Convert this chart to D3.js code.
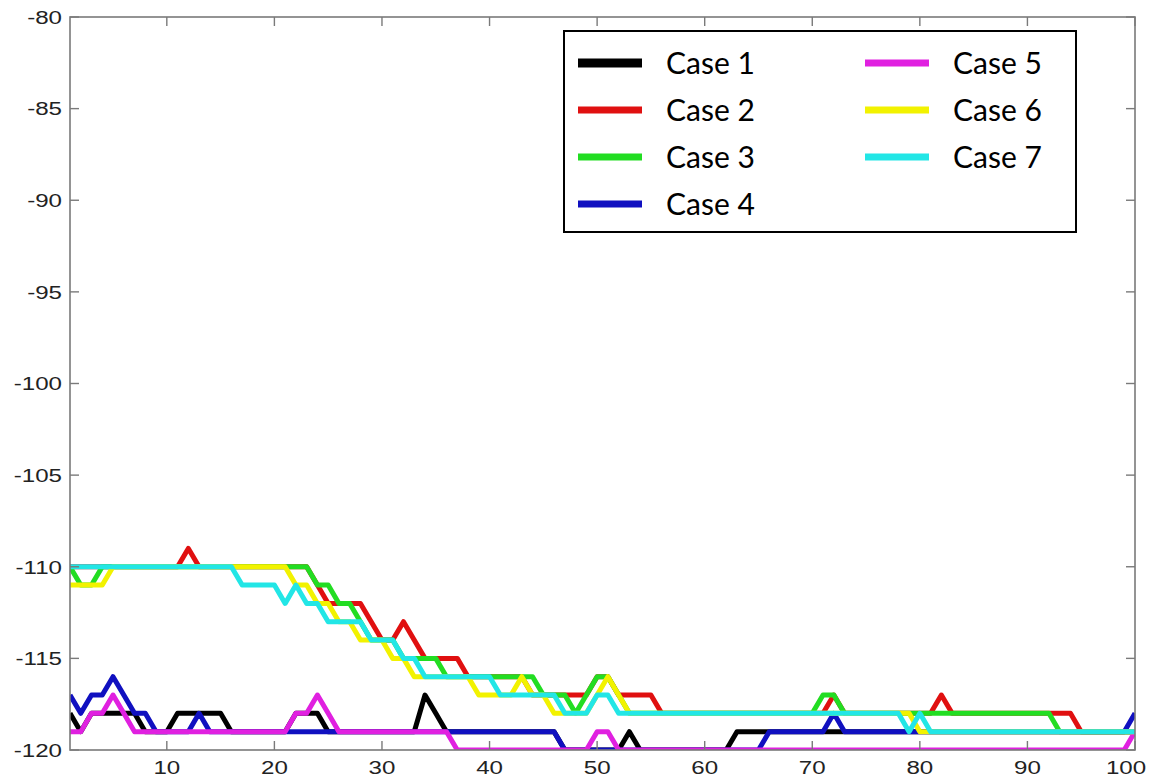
<!DOCTYPE html>
<html>
<head>
<meta charset="utf-8">
<script src="https://cdn.jsdelivr.net/npm/d3@7"></script>
<style>
  body { margin: 0; background: #fff; }
  svg { display: block; }
</style>
</head>
<body>
<script>

// series values, one per x = 1..100 (dB)
var case1 = [
  -118,-119,-118,-118,-118,-118,-118,-119,-119,-119,
  -118,-118,-118,-118,-118,-119,-119,-119,-119,-119,
  -119,-118,-118,-118,-119,-119,-119,-119,-119,-119,
  -119,-119,-119,-117,-118,-119,-119,-119,-119,-119,
  -119,-119,-119,-119,-119,-119,-120,-120,-120,-120,
  -120,-120,-119,-120,-120,-120,-120,-120,-120,-120,
  -120,-120,-119,-119,-119,-119,-119,-119,-119,-119,
  -119,-119,-119,-119,-119,-119,-119,-119,-119,-119,
  -119,-119,-119,-119,-119,-119,-119,-119,-119,-119,
  -119,-119,-119,-119,-119,-119,-119,-119,-119,-119]
var case2 = [
  -110,-110,-110,-110,-110,-110,-110,-110,-110,-110,
  -110,-109,-110,-110,-110,-110,-110,-110,-110,-110,
  -110,-110,-110,-111,-112,-112,-112,-112,-113,-114,
  -114,-113,-114,-115,-115,-115,-115,-116,-116,-116,
  -116,-116,-116,-117,-117,-117,-117,-117,-117,-116,
  -116,-117,-117,-117,-117,-118,-118,-118,-118,-118,
  -118,-118,-118,-118,-118,-118,-118,-118,-118,-118,
  -118,-117,-118,-118,-118,-118,-118,-118,-118,-118,
  -118,-117,-118,-118,-118,-118,-118,-118,-118,-118,
  -118,-118,-118,-118,-119,-119,-119,-119,-119,-119]
var case3 = [
  -110,-111,-111,-110,-110,-110,-110,-110,-110,-110,
  -110,-110,-110,-110,-110,-110,-110,-110,-110,-110,
  -110,-110,-110,-111,-111,-112,-112,-113,-114,-114,
  -114,-115,-115,-115,-115,-116,-116,-116,-116,-116,
  -116,-116,-116,-116,-117,-117,-117,-118,-117,-116,
  -116,-117,-118,-118,-118,-118,-118,-118,-118,-118,
  -118,-118,-118,-118,-118,-118,-118,-118,-118,-118,
  -117,-117,-118,-118,-118,-118,-118,-118,-118,-118,
  -118,-118,-118,-118,-118,-118,-118,-118,-118,-118,
  -118,-118,-119,-119,-119,-119,-119,-119,-119,-119]
var case4 = [
  -117,-118,-117,-117,-116,-117,-118,-118,-119,-119,
  -119,-119,-118,-119,-119,-119,-119,-119,-119,-119,
  -119,-119,-119,-119,-119,-119,-119,-119,-119,-119,
  -119,-119,-119,-119,-119,-119,-119,-119,-119,-119,
  -119,-119,-119,-119,-119,-119,-120,-120,-120,-120,
  -120,-120,-120,-120,-120,-120,-120,-120,-120,-120,
  -120,-120,-120,-120,-120,-119,-119,-119,-119,-119,
  -119,-118,-119,-119,-119,-119,-119,-119,-119,-119,
  -119,-119,-119,-119,-119,-119,-119,-119,-119,-119,
  -119,-119,-119,-119,-119,-119,-119,-119,-119,-118]
var case5 = [
  -119,-119,-118,-118,-117,-118,-119,-119,-119,-119,
  -119,-119,-119,-119,-119,-119,-119,-119,-119,-119,
  -119,-118,-118,-117,-118,-119,-119,-119,-119,-119,
  -119,-119,-119,-119,-119,-119,-120,-120,-120,-120,
  -120,-120,-120,-120,-120,-120,-120,-120,-120,-119,
  -119,-120,-120,-120,-120,-120,-120,-120,-120,-120,
  -120,-120,-120,-120,-120,-120,-120,-120,-120,-120,
  -120,-120,-120,-120,-120,-120,-120,-120,-120,-120,
  -120,-120,-120,-120,-120,-120,-120,-120,-120,-120,
  -120,-120,-120,-120,-120,-120,-120,-120,-120,-119]
var case6 = [
  -111,-111,-111,-111,-110,-110,-110,-110,-110,-110,
  -110,-110,-110,-110,-110,-110,-110,-110,-110,-110,
  -110,-111,-111,-112,-112,-113,-113,-114,-114,-114,
  -115,-115,-116,-116,-116,-116,-116,-116,-117,-117,
  -117,-117,-116,-117,-117,-118,-118,-118,-118,-117,
  -116,-117,-118,-118,-118,-118,-118,-118,-118,-118,
  -118,-118,-118,-118,-118,-118,-118,-118,-118,-118,
  -118,-118,-118,-118,-118,-118,-118,-118,-118,-119,
  -119,-119,-119,-119,-119,-119,-119,-119,-119,-119,
  -119,-119,-119,-119,-119,-119,-119,-119,-119,-119]
var case7 = [
  -110,-110,-110,-110,-110,-110,-110,-110,-110,-110,
  -110,-110,-110,-110,-110,-110,-111,-111,-111,-111,
  -112,-111,-112,-112,-113,-113,-113,-113,-114,-114,
  -114,-115,-115,-116,-116,-116,-116,-116,-116,-116,
  -117,-117,-117,-117,-117,-117,-118,-118,-118,-117,
  -117,-118,-118,-118,-118,-118,-118,-118,-118,-118,
  -118,-118,-118,-118,-118,-118,-118,-118,-118,-118,
  -118,-118,-118,-118,-118,-118,-118,-118,-119,-118,
  -119,-119,-119,-119,-119,-119,-119,-119,-119,-119,
  -119,-119,-119,-119,-119,-119,-119,-119,-119,-119]

var names = ["Case 1", "Case 2", "Case 3", "Case 4", "Case 5", "Case 6", "Case 7"]
var colors = ["#000000", "#e01010", "#22dd22", "#1010c0", "#e020e0", "#f2f200", "#22e6e6"]
var series = [case1, case2, case3, case4, case5, case6, case7]
var xTicks = [10, 20, 30, 40, 50, 60, 70, 80, 90, 100]
var yTicks = [-80, -85, -90, -95, -100, -105, -110, -115, -120]

var width = 1155, height = 782
var margin = {top: 17, right: 20, bottom: 32, left: 70}
var stretch = 1.27   // tick labels in the picture look widened

var svg = d3.select("body")
  .append("svg")
  .attr("width", width)
  .attr("height", height)

var x = d3.scaleLinear()
  .domain([1, 100])
  .range([margin.left, width - margin.right])

var y = d3.scaleLinear()
  .domain([-120, -80])
  .range([height - margin.bottom, margin.top])

// clip lines to the axes box
svg.append("clipPath")
  .attr("id", "plotclip")
  .append("rect")
  .attr("x", x(1))
  .attr("y", y(-80))
  .attr("width", x(100) - x(1))
  .attr("height", y(-120) - y(-80))

var line = d3.line()
  .x(function(d, i) { return x(i + 1) })
  .y(function(d) { return y(d) })

svg.append("g")
  .attr("clip-path", "url(#plotclip)")
  .selectAll("path")
  .data(series)
  .enter().append("path")
  .attr("d", line)
  .attr("fill", "none")
  .attr("stroke", function(d, i) { return colors[i] })
  .attr("stroke-width", 5)
  .attr("stroke-linejoin", "round")

// axes box with inward ticks on all sides
var axisColor = "#7a7a7a"
var tickLen = 9

svg.append("rect")
  .attr("x", x(1))
  .attr("y", y(-80))
  .attr("width", x(100) - x(1))
  .attr("height", y(-120) - y(-80))
  .attr("fill", "none")
  .attr("stroke", axisColor)
  .attr("stroke-width", 1.6)

var ticks = svg.append("g")
  .attr("stroke", axisColor)
  .attr("stroke-width", 1.4)

xTicks.forEach(function(t) {
  ticks.append("line")
    .attr("x1", x(t)).attr("x2", x(t))
    .attr("y1", y(-120)).attr("y2", y(-120) - tickLen)
  ticks.append("line")
    .attr("x1", x(t)).attr("x2", x(t))
    .attr("y1", y(-80)).attr("y2", y(-80) + tickLen)
})

yTicks.forEach(function(t) {
  ticks.append("line")
    .attr("x1", x(1)).attr("x2", x(1) + tickLen)
    .attr("y1", y(t)).attr("y2", y(t))
  ticks.append("line")
    .attr("x1", x(100)).attr("x2", x(100) - tickLen)
    .attr("y1", y(t)).attr("y2", y(t))
})

// tick labels
svg.append("g")
  .selectAll("g")
  .data(yTicks)
  .enter().append("g")
  .attr("transform", function(d) { return "translate(" + (x(1) - 8) + "," + y(d) + ") scale(" + stretch + ",1)" })
  .append("text")
  .attr("text-anchor", "end")
  .attr("dy", "0.36em")
  .style("font-family", "'Liberation Sans', Arial, sans-serif")
  .style("font-size", "19px")
  .attr("fill", "#222")
  .text(function(d) { return d })

svg.append("g")
  .selectAll("g")
  .data(xTicks)
  .enter().append("g")
  .attr("transform", function(d) {
    var px = x(d)
    if (d == 100) px = px - 9
    return "translate(" + px + "," + (y(-120) + 24) + ") scale(" + stretch + ",1)"
  })
  .append("text")
  .attr("text-anchor", "middle")
  .style("font-family", "'Liberation Sans', Arial, sans-serif")
  .style("font-size", "19px")
  .attr("fill", "#222")
  .text(function(d) { return d })

// legend
var legend = svg.append("g")
  .attr("transform", "translate(564,31)")

legend.append("rect")
  .attr("width", 512)
  .attr("height", 201)
  .attr("fill", "#fff")
  .attr("stroke", "#000")
  .attr("stroke-width", 2)

var items = legend.selectAll("g.item")
  .data(names)
  .enter().append("g")
  .attr("class", "item")
  .attr("transform", function(d, i) {
    var col = i < 4 ? 0 : 1
    var row = i < 4 ? i : i - 4
    return "translate(" + (col * 287) + "," + (32 + row * 47) + ")"
  })

items.append("line")
  .attr("x1", 14)
  .attr("x2", 78)
  .attr("stroke", function(d, i) { return colors[i] })
  .attr("stroke-width", function(d, i) { return i == 0 ? 9 : 7 })

items.append("text")
  .attr("x", 102)
  .attr("dy", "0.36em")
  .style("font-family", "Lato, 'Open Sans', sans-serif")
  .style("font-size", "30px")
  .attr("fill", "#000")
  .text(function(d) { return d })

</script>
</body>
</html>
